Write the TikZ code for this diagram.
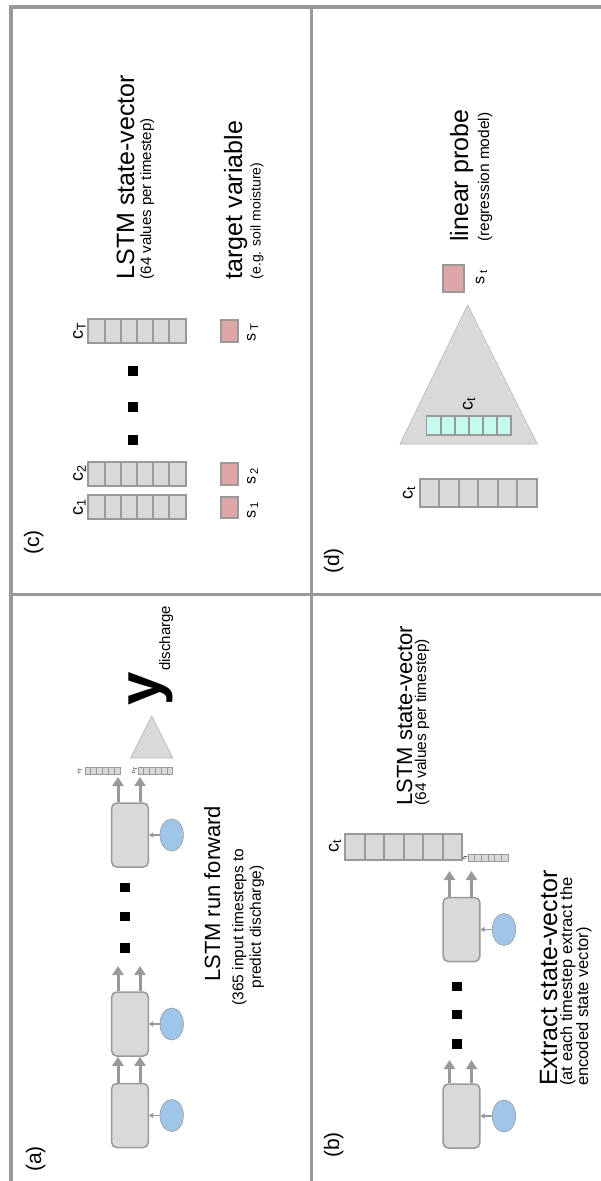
\documentclass[tikz,border=0pt]{standalone}
\usepackage{fontspec}
\setmainfont{Liberation Sans}
\usetikzlibrary{arrows.meta,calc,shapes.geometric}
\definecolor{linegray}{HTML}{999999}
\definecolor{boxgray}{HTML}{D9D9D9}
\definecolor{inblue}{HTML}{9FC5E8}
\definecolor{pinkfill}{HTML}{DDA6A7}
\definecolor{cyanfill}{HTML}{C6FCF0}
\definecolor{trigray}{HTML}{B7B7B7}
\newcommand{\fsz}[2]{\fontsize{#1}{#2}\selectfont}
\begin{document}
\begin{tikzpicture}[x=1pt,y=-1pt,
  outerline/.style={draw=linegray,line width=4pt},
  panelline/.style={draw=linegray,line width=3pt},
  lstm/.style={draw=linegray,fill=boxgray,line width=1.5pt,rounded corners=5pt,minimum width=36.6pt,minimum height=64pt,inner sep=0pt},
  inp/.style={ellipse,draw=linegray,fill=inblue,line width=0.6pt,minimum width=23.4pt,minimum height=32pt,inner sep=0pt},
  flow/.style={draw=linegray,line width=3pt,-{Triangle[length=9pt,width=11pt]}},
  feed/.style={draw=linegray,line width=1.2pt,-{Triangle[length=4pt,width=5pt]}},
  dot/.style={fill=black,minimum size=#1,inner sep=0pt},
  dot/.default=9.5pt,
  vec/.style={draw=linegray,fill=boxgray,line width=#1,inner sep=0pt,
    path picture={\foreach \k in {1,...,5}{\draw[linegray,line width=#1]
      ($(path picture bounding box.north west)!\k/6!(path picture bounding box.north east)$) --
      ($(path picture bounding box.south west)!\k/6!(path picture bounding box.south east)$);}}},
  vec/.default=2pt,
  target/.style={draw=linegray,fill=pinkfill,line width=2pt,inner sep=0pt},
  tri/.style={fill=boxgray,draw=trigray,line width=0.6pt},
  txt/.style={rotate=90,inner sep=0pt,anchor=base west},
  lbl/.style={rotate=90,inner sep=0pt}
]
\useasboundingbox (0,0) rectangle (601,1181);
\fill[white] (0,0) rectangle (601,1181);

% frame and panel dividers
\draw[outerline] (601,7) -- (10.7,7) -- (10.7,1181);
\draw[panelline] (311.7,7) -- (311.7,1181);
\draw[panelline] (10.7,594.3) -- (601,594.3);

% ---------------- panel (a)
\node[txt,font=\fsz{21}{21}] (la) at (41,1172) {(a)};
\node[lstm] (a1) at (130,1115.5) {};
\node[lstm] (a2) at (130,1024) {};
\node[lstm] (a3) at (130,835) {};
\node[inp] (x1) at (171.7,1115.5) {};
\node[inp] (x2) at (171.7,1024) {};
\node[inp] (x3) at (171.7,835) {};
\draw[feed] (x1) -- (a1);
\draw[feed] (x2) -- (a2);
\draw[feed] (x3) -- (a3);
\draw[flow] ([xshift=-12pt]a1.north) -- ([xshift=-12pt]a2.south);
\draw[flow] ([xshift=10pt]a1.north) -- ([xshift=10pt]a2.south);
\coordinate (a2o) at (130,966);
\draw[flow] ([xshift=-12pt]a2.north) -- ([xshift=-12pt]a2o);
\draw[flow] ([xshift=10pt]a2.north) -- ([xshift=10pt]a2o);
\node[dot] (ad1) at (125,947.8) {};
\node[dot] (ad2) at (125,916.7) {};
\node[dot] (ad3) at (125,887.4) {};
\coordinate (a3o) at (130,777);
\draw[flow] ([xshift=-12pt]a3.north) -- ([xshift=-12pt]a3o);
\draw[flow] ([xshift=10pt]a3.north) -- ([xshift=10pt]a3o);
\node[vec=0.8pt,minimum width=35pt,minimum height=7pt] (acT) at (102.5,770.5) {};
\node[vec=0.8pt,minimum width=34.7pt,minimum height=7pt] (ahT) at (155.35,770.5) {};
\node[lbl,font=\fsz{5}{5}] (acTl) at (80,770.5) {c\textsubscript{T}};
\node[lbl,font=\fsz{5}{5}] (ahTl) at (134.5,770.5) {h\textsubscript{T}};
\filldraw[tri] (130.7,758) -- (151.7,716) -- (172.7,758) -- cycle;
\node[lbl,font=\fsz{60}{60}\bfseries] (yout) at (150.5,689) {y};
\node[txt,font=\fsz{15}{15}] (ydis) at (170,671) {discharge};
\node[txt,font=\fsz{22}{22}] (ta) at (220,982) {LSTM run forward};
\node[lbl,font=\fsz{15.5}{17.5},align=center] (tas) at (248,927) {(365 input timesteps to\\predict discharge)};

% ---------------- panel (b)
\node[txt,font=\fsz{21}{21}] (lb) at (339,1158) {(b)};
\node[lstm] (b1) at (461.5,1116) {};
\node[lstm] (b2) at (461.5,929.5) {};
\node[inp] (u1) at (504,1116) {};
\node[inp] (u2) at (504,929.5) {};
\draw[feed] (u1) -- (b1);
\draw[feed] (u2) -- (b2);
\coordinate (b1o) at (461.5,1060);
\draw[flow] ([xshift=-12pt]b1.north) -- ([xshift=-12pt]b1o);
\draw[flow] ([xshift=10pt]b1.north) -- ([xshift=10pt]b1o);
\node[dot] (bd1) at (457,1044) {};
\node[dot] (bd2) at (457,1014.5) {};
\node[dot] (bd3) at (457,986.7) {};
\coordinate (b2o) at (461.5,871);
\draw[flow] ([xshift=-12pt]b2.north) -- ([xshift=-12pt]b2o);
\draw[flow] ([xshift=10pt]b2.north) -- ([xshift=10pt]b2o);
\node[vec=2pt,minimum width=117pt,minimum height=26pt] (bct) at (403.5,846.5) {};
\node[vec=0.8pt,minimum width=40pt,minimum height=7pt] (bht) at (488,857.5) {};
\node[lbl,font=\fsz{18}{18}] (bctl) at (335,845.5) {c\textsubscript{t}};
\node[lbl,font=\fsz{5}{5}] (bhtl) at (465,857.5) {h\textsubscript{t}};
\node[txt,font=\fsz{22}{22}] (tb) at (412,805.6) {LSTM state-vector};
\node[txt,font=\fsz{15.5}{15.5}] (tbs) at (426,805.6) {(64 values per timestep)};
\node[txt,font=\fsz{25}{25}] (te) at (557,1086) {Extract state-vector};
\node[txt,font=\fsz{16.5}{16.5}] (tes1) at (572,1086) {(at each timestep extract the};
\node[txt,font=\fsz{16.5}{16.5}] (tes2) at (588,1086) {encoded state vector)};

% ---------------- panel (c)
\node[txt,font=\fsz{21}{21}] (lc) at (39,555) {(c)};
\node[vec=2pt,minimum width=97.4pt,minimum height=24pt] (c1) at (137,507) {};
\node[vec=2pt,minimum width=97.4pt,minimum height=24pt] (c2) at (137,473.7) {};
\node[vec=2pt,minimum width=97.4pt,minimum height=24pt] (cT) at (137,331) {};
\node[lbl,font=\fsz{18}{18}] (c1l) at (79.5,507) {c\textsubscript{1}};
\node[lbl,font=\fsz{18}{18}] (c2l) at (79.5,473.7) {c\textsubscript{2}};
\node[lbl,font=\fsz{18}{18}] (cTl) at (79.5,331) {c\textsubscript{T}};
\node[dot=10pt] (cd1) at (133,440) {};
\node[dot=10pt] (cd2) at (133,407) {};
\node[dot=10pt] (cd3) at (133,370.5) {};
\node[target,minimum width=17.6pt,minimum height=21.5pt] (s1) at (229.5,507.5) {};
\node[target,minimum width=17.6pt,minimum height=21.5pt] (s2) at (229.5,474) {};
\node[target,minimum width=17.6pt,minimum height=21.5pt] (sT) at (229.5,331) {};
\node[lbl,font=\fsz{16}{16}] (s1l) at (252.5,510) {s\,\textsubscript{1}};
\node[lbl,font=\fsz{16}{16}] (s2l) at (252.5,476) {s\,\textsubscript{2}};
\node[lbl,font=\fsz{16}{16}] (sTl) at (252.5,332) {s\,\textsubscript{T}};
\node[txt,font=\fsz{25}{25}] (tc) at (134,279.5) {LSTM state-vector};
\node[txt,font=\fsz{15}{15}] (tcs) at (151,279.5) {(64 values per timestep)};
\node[txt,font=\fsz{25}{25}] (tt) at (242,279.5) {target variable};
\node[txt,font=\fsz{14}{14}] (tts) at (260.5,279.5) {(e.g. soil moisture)};

% ---------------- panel (d)
\node[txt,font=\fsz{21}{21}] (ld) at (339,574) {(d)};
\node[vec=2pt,minimum width=116.7pt,minimum height=27.7pt] (dct) at (478.35,493) {};
\node[lbl,font=\fsz{18}{18}] (dctl) at (409,493) {c\textsubscript{t}};
\filldraw[tri] (400,444) -- (467.7,305) -- (537.3,444) -- cycle;
\node[vec=1.5pt,fill=cyanfill,minimum width=84.3pt,minimum height=19pt] (dcy) at (468.85,425.5) {};
\node[lbl,font=\fsz{18}{18}] (dcyl) at (469,404) {c\textsubscript{t}};
\node[target,minimum width=21pt,minimum height=27pt] (dst) at (453.5,278.5) {};
\node[lbl,font=\fsz{16}{16}] (dstl) at (481.5,277.5) {s\,\textsubscript{t}};
\node[txt,font=\fsz{25}{25}] (tp) at (468,242) {linear probe};
\node[txt,font=\fsz{15.5}{15.5}] (tps) at (489,242) {(regression model)};
\end{tikzpicture}
\end{document}
